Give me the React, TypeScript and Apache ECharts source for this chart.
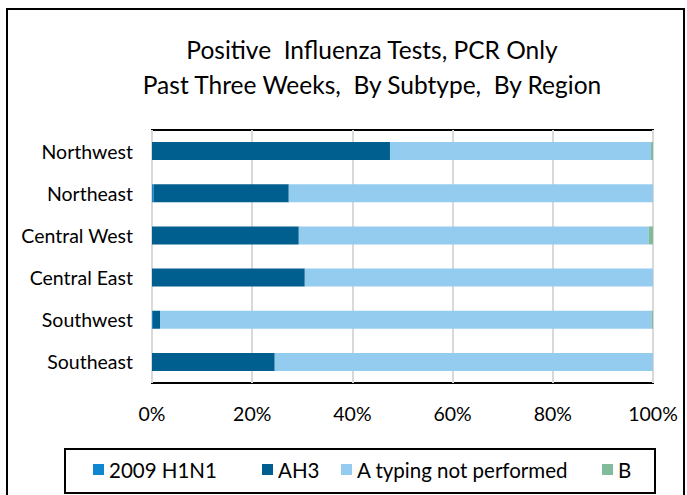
import React, { useEffect, useRef } from "react";
import * as echarts from "echarts";

const regions = ["Northwest", "Northeast", "Central West", "Central East", "Southwest", "Southeast"];
const h1n1 = [0, 0.3, 0, 0, 0.2, 0];
const ah3 = [47.5, 27.0, 29.3, 30.5, 1.4, 24.5];
const aTyping = [52.1, 72.7, 69.8, 69.5, 98.1, 75.5];
const typeB = [0.4, 0, 0.9, 0, 0.3, 0];
const seriesNames = ["2009 H1N1", "AH3", "A typing not performed", "B"];
const seriesColors = ["#0E87D0", "#005F8E", "#94CCF0", "#80BC9C"];
const xTicks = [0, 20, 40, 60, 80, 100];

const FONT = "Lato, 'Open Sans', sans-serif";

export default function App() {
  const ref = useRef<HTMLDivElement>(null);
  useEffect(() => {
    if (!ref.current) return;
    document.body.style.margin = "0";
    const chart = echarts.init(ref.current, null, { renderer: "svg" });
    const values = [h1n1, ah3, aTyping, typeB];
    const legendLefts = [93, 262, 341, 602];
    chart.setOption({
      animation: false,
      backgroundColor: "#fff",
      textStyle: { fontFamily: FONT },
      title: {
        text: "Positive  Influenza Tests, PCR Only\nPast Three Weeks,  By Subtype,  By Region",
        left: 372,
        top: 32,
        padding: 0,
        textAlign: "center",
        textStyle: { fontSize: 24.5, fontWeight: "normal", color: "#000", lineHeight: 35, fontFamily: FONT },
      },
      legend: seriesNames.map((n, i) => ({
        data: [n],
        left: legendLefts[i],
        top: 459,
        padding: 0,
        icon: "rect",
        itemWidth: 11,
        itemHeight: 11,
        itemGap: 6,
        textStyle: { fontSize: 20.5, color: "#000", fontFamily: FONT },
      })),
      grid: {
        left: 152,
        top: 130,
        right: 34,
        bottom: 112,
        show: true,
        borderColor: "#000",
        borderWidth: 2,
        backgroundColor: "transparent",
      },
      xAxis: {
        type: "value",
        min: xTicks[0],
        max: xTicks[xTicks.length - 1],
        interval: 20,
        axisLine: { show: false },
        axisTick: { show: false },
        axisLabel: { formatter: "{value}%", fontSize: 19.5, color: "#000", margin: 20, fontFamily: FONT },
        splitLine: { show: true, lineStyle: { color: "#D9D9D9", width: 2 } },
      },
      yAxis: {
        type: "category",
        data: regions,
        inverse: true,
        axisLine: { show: false },
        axisTick: { show: false },
        axisLabel: { fontSize: 19.5, color: "#000", margin: 19, fontFamily: FONT },
      },
      series: seriesNames.map((n, i) => ({
        name: n,
        type: "bar",
        stack: "total",
        barWidth: 18,
        itemStyle: { color: seriesColors[i] },
        data: values[i],
      })),
      graphic: [
        {
          type: "rect",
          silent: true,
          shape: { x: 7, y: 9, width: 677, height: 520 },
          style: { fill: "none", stroke: "#000", lineWidth: 2 },
        },
        {
          type: "rect",
          silent: true,
          shape: { x: 65, y: 449, width: 590, height: 44 },
          style: { fill: "none", stroke: "#000", lineWidth: 2 },
        },
      ],
    });
    return () => chart.dispose();
  }, []);
  return <div ref={ref} style={{ width: 687, height: 495 }} />;
}
